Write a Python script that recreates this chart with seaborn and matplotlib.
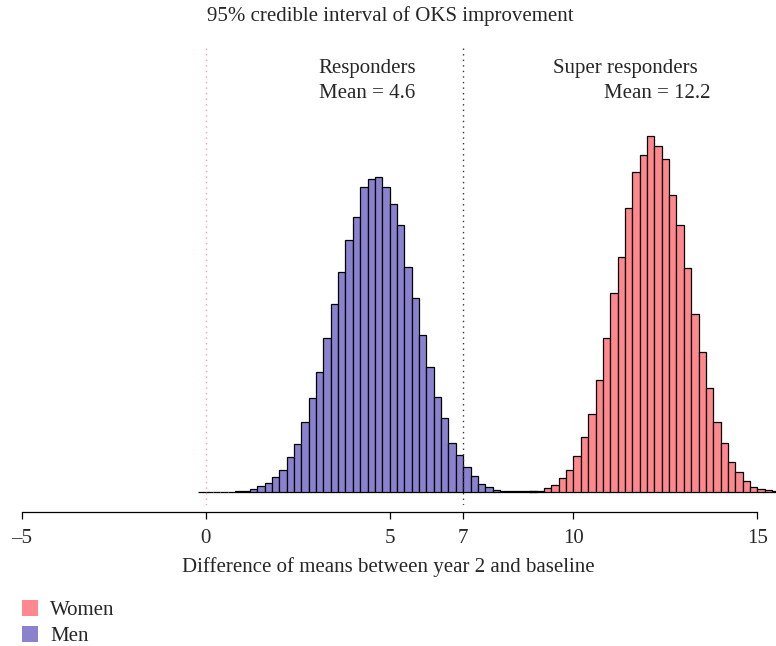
import numpy as np
import pandas as pd
import matplotlib
matplotlib.use("Agg")
import matplotlib.pyplot as plt
from matplotlib.patches import Patch
import seaborn as sns

# ==============================
# Data (histogram counts, bin width 0.2)
# ==============================

bin_width = 0.2

men_start = -0.2
men_counts = [0, 0, 0, 0, 0, 2, 3, 8, 16, 26, 43, 66, 103, 144, 210, 282,
              358, 462, 563, 658, 756, 823, 915, 937, 945, 915, 864, 800,
              673, 580, 469, 373, 285, 221, 147, 110, 74, 47, 23, 14, 6,
              3, 2, 2, 3, 1]

women_start = 8.8
women_counts = [1, 2, 10, 20, 41, 64, 108, 164, 233, 334, 461, 596, 704,
                851, 958, 1010, 1067, 1037, 999, 890, 799, 671, 533, 419,
                311, 208, 146, 90, 60, 32, 14, 8, 5, 2]

x_ticks = [-5, 0, 5, 7, 10, 15]
threshold = 7
means = {"Responders": 4.6, "Super responders": 12.2}

men_color = "#8A82CE"
women_color = "#FF888E"


def hist_frame(start, counts):
    edges = np.round(start + bin_width * np.arange(len(counts) + 1), 2)
    centers = edges[:-1] + bin_width / 2
    return pd.DataFrame({"x": centers, "n": counts}), [float(e) for e in edges]


men_df, men_edges = hist_frame(men_start, men_counts)
women_df, women_edges = hist_frame(women_start, women_counts)

# ==============================
# Plot
# ==============================

sns.set_theme(style="white")
plt.rcParams["font.family"] = ["Liberation Serif", "DejaVu Serif"]
fs = 15

W, H = 776, 646
fig = plt.figure(figsize=(W / 100, H / 100), dpi=100)
ax = fig.add_axes([0, 1 - 505 / H, 1, (505 - 48) / H])

sns.histplot(data=men_df, x="x", weights="n", bins=men_edges, color=men_color,
             alpha=1, edgecolor="black", linewidth=0.9, ax=ax)
sns.histplot(data=women_df, x="x", weights="n", bins=women_edges, color=women_color,
             alpha=1, edgecolor="black", linewidth=0.9, ax=ax)

ax.axvline(0, color="#FF9AAA", linestyle=(0, (1, 3)), linewidth=1)
ax.axvline(threshold, color="#333333", linestyle=(0, (1, 3)), linewidth=1)

ax.set_xlim(-5.593, 15.506)
ax.set_ylim(-40, 1331)

for s in ["top", "left", "right"]:
    ax.spines[s].set_visible(False)
ax.spines["bottom"].set_position(("outward", 5))
ax.spines["bottom"].set_bounds(-5, 15)
ax.spines["bottom"].set_color("black")
ax.spines["bottom"].set_linewidth(0.9)
ax.set_xticks(x_ticks)
ax.set_xticklabels([str(t).replace("-", "\u2013") for t in x_ticks])
ax.tick_params(axis="x", direction="out", length=5, width=0.9, color="black",
               labelsize=fs, pad=7, bottom=True)
ax.set_yticks([])
ax.set_ylabel("")
ax.set_xlabel("Difference of means between year 2 and baseline", fontsize=fs,
              labelpad=7)

fig.text(390 / W, 1 - 16 / H, "95% credible interval of OKS improvement",
         ha="center", va="center", fontsize=fs)
fig.text(367 / W, 1 - 68 / H, "Responders", ha="center", va="center", fontsize=fs)
fig.text(367 / W, 1 - 93 / H, "Mean = %.1f" % means["Responders"],
         ha="center", va="center", fontsize=fs)
fig.text(625 / W, 1 - 68 / H, "Super responders", ha="center", va="center", fontsize=fs)
fig.text(657 / W, 1 - 93 / H, "Mean = %.1f" % means["Super responders"],
         ha="center", va="center", fontsize=fs)

handles = [Patch(facecolor=women_color, edgecolor="none", label="Women"),
           Patch(facecolor=men_color, edgecolor="none", label="Men")]
fig.legend(handles=handles, loc="upper left", bbox_to_anchor=(14 / W, 1 - 592 / H),
           frameon=False, fontsize=fs, handlelength=0.75, handleheight=0.75,
           handletextpad=0.6, labelspacing=0.3, borderaxespad=0)

fig.savefig("out.png", dpi=100)
